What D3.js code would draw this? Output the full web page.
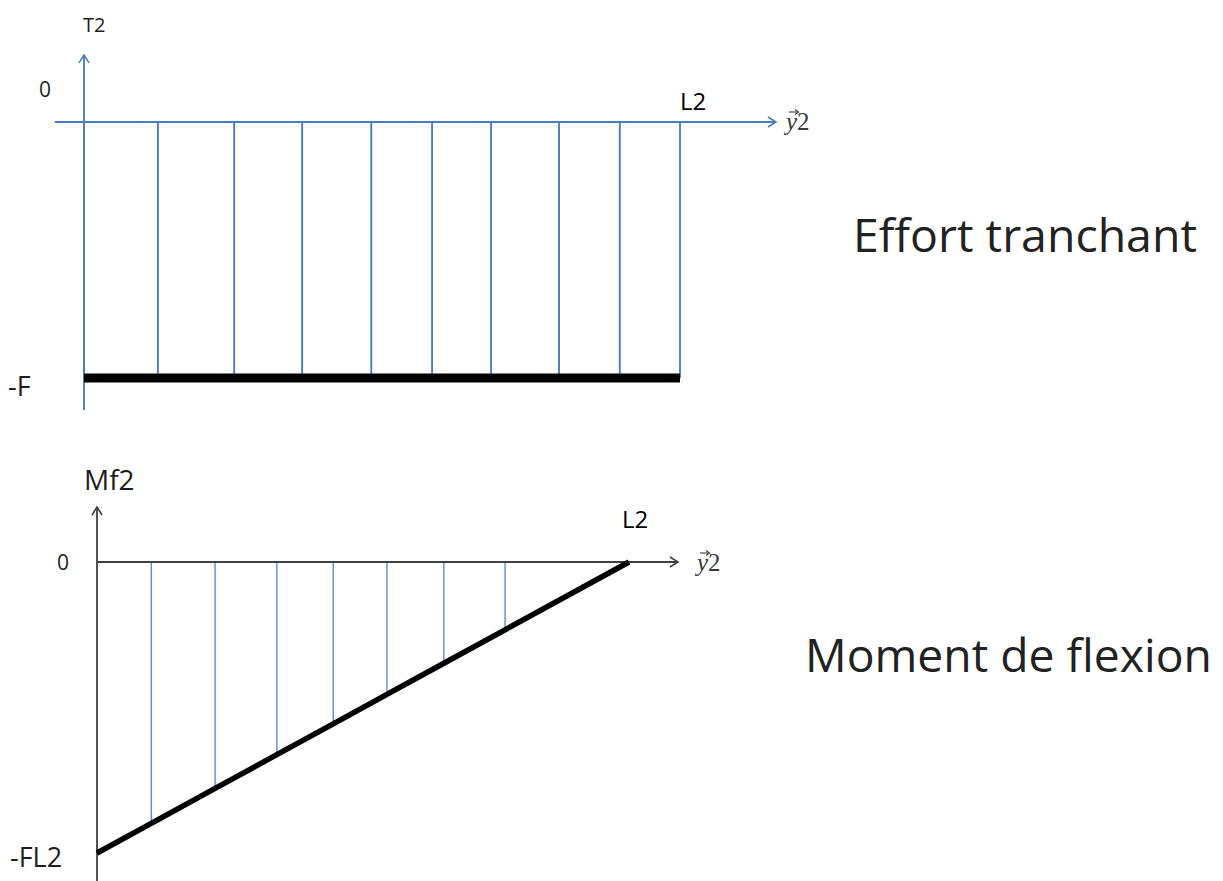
<!DOCTYPE html>
<html>
<head>
<meta charset="utf-8">
<script src="https://cdn.jsdelivr.net/npm/d3@7"></script>
<style>
  body { margin: 0; background: #fff; }
  text { font-family: "Open Sans", sans-serif; fill: #1e1e1e; }
</style>
</head>
<body>
<div id="vis"></div>
<script>
// shear diagram stations (fraction of L2) and values (fraction of F)
var shearStations = [0, 0.124, 0.252, 0.366, 0.482, 0.584, 0.683, 0.797, 0.899, 1];
var shearValues = [-1, -1, -1, -1, -1, -1, -1, -1, -1, -1];
var shearLabels = ["T2", "0", "-F", "L2"];

// bending moment stations (fraction of L2) and values (fraction of F.L2)
var momentStations = [0, 0.102, 0.222, 0.338, 0.444, 0.545, 0.652, 0.767, 1];
var momentValues = [-1, -0.898, -0.778, -0.662, -0.556, -0.455, -0.348, -0.233, 0];
var momentLabels = ["Mf2", "0", "-FL2", "L2"];

var titles = ["Effort tranchant", "Moment de flexion"];

var blue = '#4a7ebb';
var dark = '#404040';

var svg = d3.select('#vis').append('svg').attr('width', 1223).attr('height', 881);

// open chevron arrow head at (x,y) pointing 'r' or 'u'
function arrowHead(x, y, dir, color) {
  var p = dir == 'r'
    ? [[x - 8, y - 5], [x, y], [x - 8, y + 5]]
    : [[x - 5, y + 8], [x, y], [x + 5, y + 8]];
  svg.append('path').attr('d', d3.line()(p))
    .attr('fill', 'none').attr('stroke', color).attr('stroke-width', 1.6);
}

// y vector label
function yVec(x, y) {
  var t = svg.append('text').attr('x', x).attr('y', y).style('font-size', '25px');
  t.append('tspan').text('y').style('font-family', '"Liberation Serif", serif').style('font-style', 'italic').style('fill', '#3a3a3a');
  t.append('tspan').text('2').style('font-family', '"Liberation Serif", serif').style('fill', '#3a3a3a');
  svg.append('path').attr('d', d3.line()([[x + 3, y - 18], [x + 12, y - 18]]))
    .attr('stroke', '#3a3a3a').attr('stroke-width', 1.1);
  svg.append('path').attr('d', d3.line()([[x + 9, y - 20.5], [x + 12.5, y - 18], [x + 9, y - 15.5]]))
    .attr('fill', 'none').attr('stroke', '#3a3a3a').attr('stroke-width', 1.1);
}

// ---------- shear diagram ----------
var xT = d3.scaleLinear().domain([0, 1]).range([84, 680]);
var yT = d3.scaleLinear().domain([0, -1]).range([122, 378]);

svg.selectAll('line.tv')
  .data(shearStations).enter().append('line')
  .attr('class', 'tv')
  .attr('x1', function(d) { return xT(d); })
  .attr('x2', function(d) { return xT(d); })
  .attr('y1', yT(0))
  .attr('y2', function(d, i) { return yT(shearValues[i]); })
  .attr('stroke', blue).attr('stroke-width', 1.9);

svg.append('line')
  .attr('x1', xT(0)).attr('x2', xT(0)).attr('y1', yT(0.262)).attr('y2', yT(-1.125))
  .attr('stroke', blue).attr('stroke-width', 1.9);
svg.append('line')
  .attr('x1', xT(-0.049)).attr('x2', xT(1.161)).attr('y1', yT(0)).attr('y2', yT(0))
  .attr('stroke', blue).attr('stroke-width', 1.9);
arrowHead(xT(1.161), yT(0), 'r', blue);
arrowHead(xT(0), yT(0.262), 'u', blue);

svg.append('path')
  .datum(shearStations)
  .attr('d', d3.line()
    .x(function(d) { return xT(d); })
    .y(function(d, i) { return yT(shearValues[i]); }))
  .attr('fill', 'none').attr('stroke', '#000').attr('stroke-width', 9);

svg.append('text').attr('x', 83).attr('y', 32).style('font-size', '20px').text(shearLabels[0]);
svg.append('text').attr('x', 39).attr('y', 97).style('font-size', '21px').text(shearLabels[1]);
svg.append('text').attr('x', 8).attr('y', 396).style('font-size', '27px').text(shearLabels[2]);
svg.append('text').attr('x', 680).attr('y', 110).style('font-size', '24px').style('fill', '#000').text(shearLabels[3]);
yVec(786, 130);

// ---------- moment diagram ----------
var xB = d3.scaleLinear().domain([0, 1]).range([97, 629]);
var yB = d3.scaleLinear().domain([0, -1]).range([562, 853]);

svg.selectAll('line.mv')
  .data(momentStations.slice(1, -1)).enter().append('line')
  .attr('class', 'mv')
  .attr('x1', function(d) { return xB(d); })
  .attr('x2', function(d) { return xB(d); })
  .attr('y1', yB(0))
  .attr('y2', function(d, i) { return yB(momentValues[i + 1]); })
  .attr('stroke', '#5b8fd0').attr('stroke-width', 1.4);

svg.append('line')
  .attr('x1', xB(0)).attr('x2', xB(0)).attr('y1', yB(0.189)).attr('y2', yB(-1.1))
  .attr('stroke', dark).attr('stroke-width', 1.8);
svg.append('line')
  .attr('x1', xB(0)).attr('x2', xB(1.092)).attr('y1', yB(0)).attr('y2', yB(0))
  .attr('stroke', dark).attr('stroke-width', 1.8);
arrowHead(xB(1.092), yB(0), 'r', dark);
arrowHead(xB(0), yB(0.189), 'u', dark);

svg.append('path')
  .datum(momentStations)
  .attr('d', d3.line()
    .x(function(d) { return xB(d); })
    .y(function(d, i) { return yB(momentValues[i]); }))
  .attr('fill', 'none').attr('stroke', '#000').attr('stroke-width', 5.5);

svg.append('text').attr('x', 84).attr('y', 490).style('font-size', '28px').text(momentLabels[0]);
svg.append('text').attr('x', 57).attr('y', 570).style('font-size', '21px').text(momentLabels[1]);
svg.append('text').attr('x', 10).attr('y', 867).style('font-size', '27px').text(momentLabels[2]);
svg.append('text').attr('x', 622).attr('y', 528).style('font-size', '24px').style('fill', '#000').text(momentLabels[3]);
yVec(697, 571);

// ---------- titles, fitted to their width ----------
var titlePos = [[853, 252, 344], [805, 672, 407]];
svg.selectAll('text.title')
  .data(titles).enter().append('text')
  .attr('class', 'title')
  .attr('x', function(d, i) { return titlePos[i][0]; })
  .attr('y', function(d, i) { return titlePos[i][1]; })
  .style('font-size', '44px')
  .style('fill', '#222')
  .text(function(d) { return d; })
  .each(function(d, i) {
    var w = this.getComputedTextLength();
    d3.select(this).style('font-size', (44 * titlePos[i][2] / w) + 'px');
  });
</script>
</body>
</html>
